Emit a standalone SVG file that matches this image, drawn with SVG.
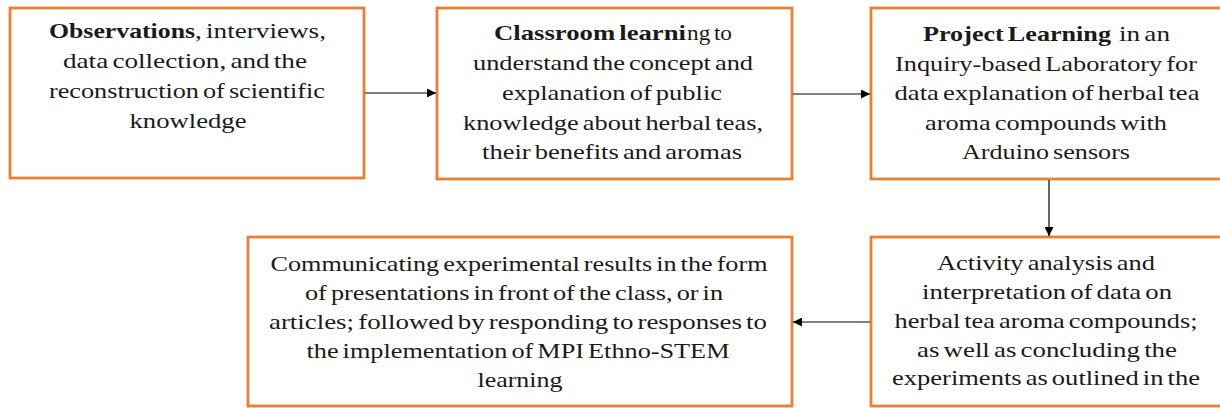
<svg xmlns="http://www.w3.org/2000/svg" width="1220" height="408" viewBox="0 0 1220 408">
  <style>
    .box { fill: #ffffff; stroke: #ED7D31; stroke-width: 2.8; }
    .lbl { font-family: "Liberation Serif", "Times New Roman", serif; font-size: 21px; fill: #1a1a1a; text-anchor: middle; word-spacing: -2px; }
    .s { text-anchor: start; }
    .b { font-weight: bold; }
    .edge { stroke: #000000; stroke-width: 1.2; fill: none; marker-end: url(#arrow); }
  </style>
  <defs>
    <marker id="arrow" viewBox="0 0 10 10" refX="10" refY="5" markerWidth="11" markerHeight="9" markerUnits="userSpaceOnUse" orient="auto">
      <path d="M0,0 L10,5 L0,10 z" fill="#000000"/>
    </marker>
  </defs>
  <rect width="1220" height="408" fill="#ffffff"/>

  <g id="node-observations">
    <rect class="box" x="10" y="8" width="354" height="170"/>
    <text class="lbl s b" x="49" y="38" textLength="146" lengthAdjust="spacingAndGlyphs">Observations</text>
    <text class="lbl s" x="195" y="38" textLength="131" lengthAdjust="spacingAndGlyphs">, interviews,</text>
    <text class="lbl" x="185" y="68" textLength="244" lengthAdjust="spacingAndGlyphs">data collection, and the</text>
    <text class="lbl" x="187" y="98" textLength="276" lengthAdjust="spacingAndGlyphs">reconstruction of scientific</text>
    <text class="lbl" x="188" y="128" textLength="117" lengthAdjust="spacingAndGlyphs">knowledge</text>
  </g>

  <g id="node-classroom">
    <rect class="box" x="437" y="8" width="355" height="171"/>
    <text class="lbl s b" x="494" y="40" textLength="192" lengthAdjust="spacingAndGlyphs">Classroom learni</text>
    <text class="lbl s" x="687" y="40" textLength="45" lengthAdjust="spacingAndGlyphs">ng to</text>
    <text class="lbl" x="613" y="70" textLength="280" lengthAdjust="spacingAndGlyphs">understand the concept and</text>
    <text class="lbl" x="612" y="100" textLength="220" lengthAdjust="spacingAndGlyphs">explanation of public</text>
    <text class="lbl" x="613" y="130" textLength="300" lengthAdjust="spacingAndGlyphs">knowledge about herbal teas,</text>
    <text class="lbl" x="612" y="159" textLength="260" lengthAdjust="spacingAndGlyphs">their benefits and aromas</text>
  </g>

  <g id="node-project">
    <rect class="box" x="871" y="8" width="360" height="171"/>
    <text class="lbl s b" x="923" y="41" textLength="188" lengthAdjust="spacingAndGlyphs">Project Learning</text>
    <text class="lbl s" x="1119" y="41" textLength="51" lengthAdjust="spacingAndGlyphs">in an</text>
    <text class="lbl" x="1046" y="71" textLength="302" lengthAdjust="spacingAndGlyphs">Inquiry-based Laboratory for</text>
    <text class="lbl" x="1047" y="100" textLength="305" lengthAdjust="spacingAndGlyphs">data explanation of herbal tea</text>
    <text class="lbl" x="1046" y="130" textLength="242" lengthAdjust="spacingAndGlyphs">aroma compounds with</text>
    <text class="lbl" x="1046" y="159" textLength="168" lengthAdjust="spacingAndGlyphs">Arduino sensors</text>
  </g>

  <g id="node-analysis">
    <rect class="box" x="871" y="237" width="360" height="169"/>
    <text class="lbl" x="1046" y="270" textLength="218" lengthAdjust="spacingAndGlyphs">Activity analysis and</text>
    <text class="lbl" x="1047" y="299" textLength="250" lengthAdjust="spacingAndGlyphs">interpretation of data on</text>
    <text class="lbl" x="1046" y="328" textLength="303" lengthAdjust="spacingAndGlyphs">herbal tea aroma compounds;</text>
    <text class="lbl" x="1047" y="357" textLength="260" lengthAdjust="spacingAndGlyphs">as well as concluding the</text>
    <text class="lbl" x="1046" y="385" textLength="308" lengthAdjust="spacingAndGlyphs">experiments as outlined in the</text>
  </g>

  <g id="node-communicating">
    <rect class="box" x="248" y="237" width="544" height="169"/>
    <text class="lbl" x="519" y="271" textLength="497" lengthAdjust="spacingAndGlyphs">Communicating experimental results in the form</text>
    <text class="lbl" x="514" y="300" textLength="418" lengthAdjust="spacingAndGlyphs">of presentations in front of the class, or in</text>
    <text class="lbl" x="518" y="329" textLength="498" lengthAdjust="spacingAndGlyphs">articles; followed by responding to responses to</text>
    <text class="lbl" x="518" y="358" textLength="423" lengthAdjust="spacingAndGlyphs">the implementation of MPI Ethno-STEM</text>
    <text class="lbl" x="520" y="387" textLength="85" lengthAdjust="spacingAndGlyphs">learning</text>
  </g>

  <g id="connectors">
    <line class="edge" x1="365" y1="93" x2="436" y2="93"/>
    <line class="edge" x1="793" y1="94" x2="870" y2="94"/>
    <line class="edge" x1="1049" y1="180" x2="1049" y2="236"/>
    <line class="edge" x1="870" y1="322" x2="793" y2="322"/>
  </g>
</svg>
